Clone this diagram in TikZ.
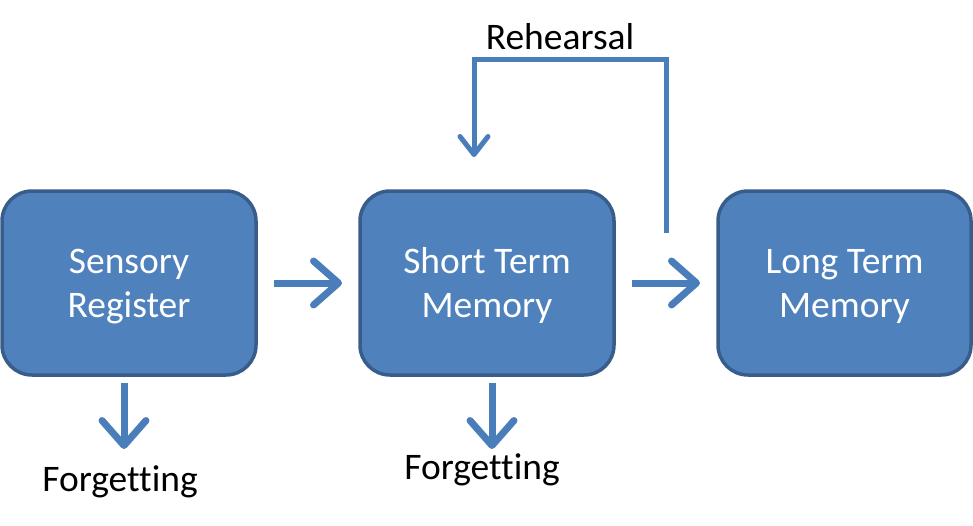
\documentclass[tikz,border=0pt]{standalone}
\usepackage{fontspec}
\setmainfont{Carlito}[Ligatures=NoCommon]
\usetikzlibrary{arrows.meta}
\definecolor{boxfill}{HTML}{4F81BD}
\definecolor{boxline}{HTML}{385D8A}
\definecolor{arrowblue}{HTML}{4A7EBB}
\tikzset{
  membox/.style={draw=boxline, fill=boxfill, line width=3.5pt, rounded corners=30pt,
    minimum width=254pt, minimum height=184pt, inner sep=0pt, text=white,
    align=center, text height=80pt, text depth=12pt, font=\fontsize{37.5}{44}\selectfont},
  bigarrow/.style={draw=arrowblue, line width=7pt,
    -{Straight Barb[length=25pt, width=44pt, round]}},
  smallarrow/.style={draw=arrowblue, line width=5pt,
    -{Straight Barb[length=18pt, width=28pt, round]}},
  lbl/.style={text=black, font=\fontsize{37.5}{44}\selectfont, inner sep=0pt}
}
\begin{document}
\begin{tikzpicture}[x=1pt, y=-1pt]
\useasboundingbox (0,0) rectangle (973,525);
\node[membox] (sr) at (129,283) {Sensory\\Register};
\node[membox] (stm) at (487,283) {Short Term\\Memory};
\node[membox, minimum width=253pt] (ltm) at (844.5,283) {Long Term\\Memory};
\coordinate (a1s) at (274,283);
\coordinate (a1e) at (342,283);
\coordinate (a2s) at (632,283);
\coordinate (a2e) at (700,283);
\coordinate (d1s) at (124,383);
\coordinate (d1e) at (124,449);
\coordinate (d2s) at (492,383);
\coordinate (d2e) at (492,449);
\coordinate (r1) at (666,233);
\coordinate (r2) at (666,59);
\coordinate (r3) at (474,59);
\coordinate (r4) at (474,157);
\draw[bigarrow] (a1s) -- (a1e);
\draw[bigarrow] (a2s) -- (a2e);
\draw[bigarrow] (d1s) -- (d1e);
\draw[bigarrow] (d2s) -- (d2e);
\draw[smallarrow] (r1) -- (r2) -- (r3) -- (r4);
\node[lbl] (reh) at (560,37) {Rehearsal};
\node[lbl] (f1) at (120,482) {Forgetting};
\node[lbl] (f2) at (482,470) {Forgetting};
\end{tikzpicture}
\end{document}
